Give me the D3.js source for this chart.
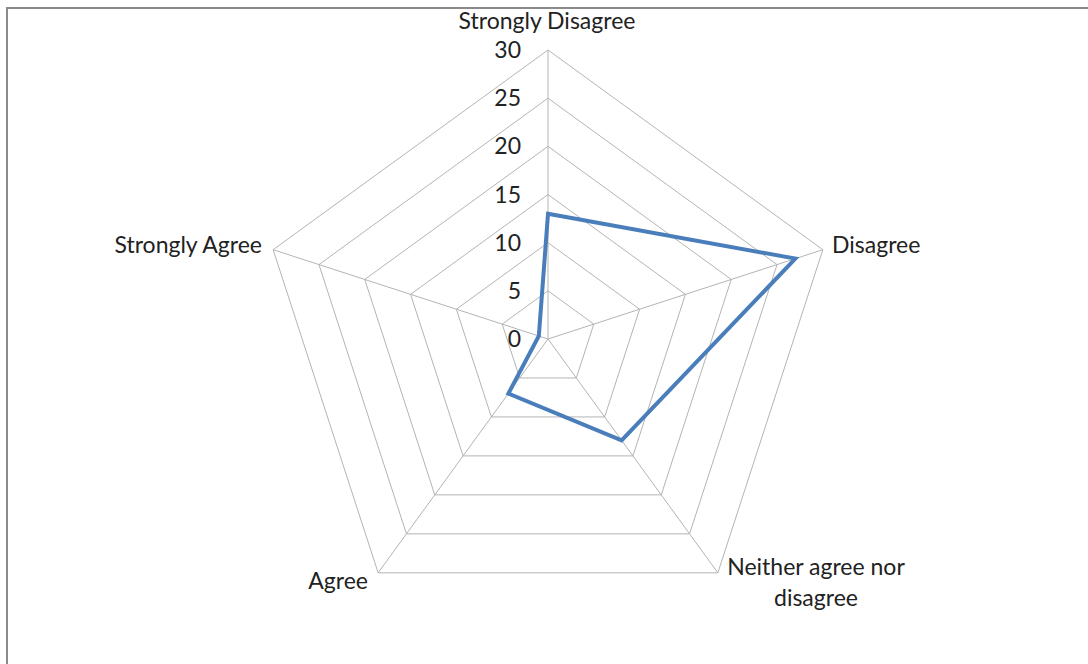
<!DOCTYPE html>
<html>
<head>
<meta charset="utf-8">
<script src="https://cdn.jsdelivr.net/npm/d3@7"></script>
<style>
  body { margin: 0; background: #fff; }
  text { font-family: Lato, "Open Sans", sans-serif; fill: #222; }
</style>
</head>
<body>
<script>
// radar chart, single series
var categories = ["Strongly Disagree", "Disagree", "Neither agree nor disagree", "Agree", "Strongly Agree"];
var values = [13, 27, 13, 7, 1];
var ticks = [0, 5, 10, 15, 20, 25, 30];

var w = 1088, h = 664;
var cx = 548, cy = 339, radius = 289;

var svg = d3.select("body")
  .append("svg")
  .attr("width", w)
  .attr("height", h);

// frame (top + left edges visible)
svg.append("line").attr("x1", 7).attr("x2", w).attr("y1", 8).attr("y2", 8)
  .style("stroke", "#8a8a8a").style("stroke-width", 2);
svg.append("line").attr("x1", 7).attr("x2", 7).attr("y1", 7).attr("y2", h)
  .style("stroke", "#8a8a8a").style("stroke-width", 2);

var r = d3.scaleLinear().domain([0, 30]).range([0, radius]);
var angle = d3.scaleBand().domain(categories).range([0, 2 * Math.PI]).paddingInner(0).paddingOuter(0);

function pt(cat, v) {
  var a = angle(cat) - Math.PI / 2;
  return [cx + r(v) * Math.cos(a), cy + r(v) * Math.sin(a)];
}

var g = svg.append("g");

// grid pentagons
g.selectAll(".ring")
  .data(ticks.slice(1))
  .enter().append("polygon")
  .attr("class", "ring")
  .attr("points", function(t) {
    return categories.map(function(c) { return pt(c, t).join(","); }).join(" ");
  })
  .style("fill", "none")
  .style("stroke", "#b4b4b4")
  .style("stroke-width", 1);

// spokes
g.selectAll(".spoke")
  .data(categories)
  .enter().append("line")
  .attr("class", "spoke")
  .attr("x1", cx).attr("y1", cy)
  .attr("x2", function(c) { return pt(c, 30)[0]; })
  .attr("y2", function(c) { return pt(c, 30)[1]; })
  .style("stroke", "#b4b4b4")
  .style("stroke-width", 1);

// tick labels along first axis
g.selectAll(".tick")
  .data(ticks)
  .enter().append("text")
  .attr("class", "tick")
  .attr("x", cx - 27)
  .attr("y", function(t) { return cy - r(t); })
  .attr("dy", "0.35em")
  .attr("text-anchor", "end")
  .style("font-size", "23px")
  .text(function(t) { return t; });

// series
var line = d3.line().curve(d3.curveLinearClosed);
g.append("path")
  .datum(categories.map(function(c, i) { return pt(c, values[i]); }))
  .attr("d", line)
  .style("fill", "none")
  .style("stroke", "#4a7ebb")
  .style("stroke-width", 4)
  .style("stroke-linejoin", "miter");

// category labels
var labelPos = [
  { x: 547, y: 21, anchor: "middle", lines: ["Strongly Disagree"] },
  { x: 832, y: 245, anchor: "start", lines: ["Disagree"] },
  { x: 816, y: 567, anchor: "middle", lines: ["Neither agree nor", "disagree"] },
  { x: 368, y: 581, anchor: "end", lines: ["Agree"] },
  { x: 262, y: 245, anchor: "end", lines: ["Strongly Agree"] }
];

labelPos.forEach(function(p) {
  var t = g.append("text")
    .attr("x", p.x).attr("y", p.y)
    .attr("text-anchor", p.anchor)
    .style("font-size", "23px");
  p.lines.forEach(function(l, i) {
    t.append("tspan").attr("x", p.x).attr("dy", i === 0 ? "0.35em" : "1.35em").text(l);
  });
});
</script>
</body>
</html>
